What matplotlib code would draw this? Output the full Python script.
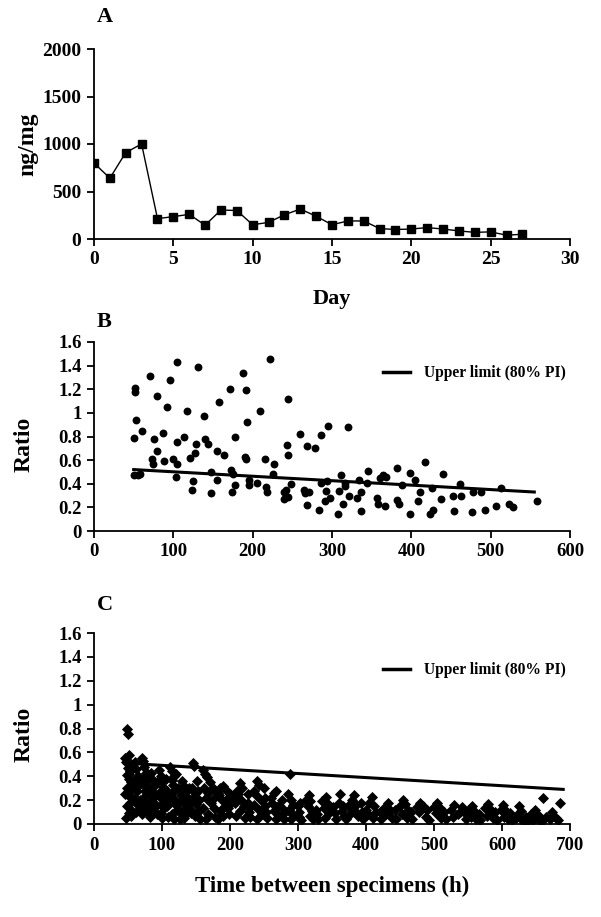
import matplotlib
matplotlib.use("Agg")
import matplotlib.pyplot as plt
from matplotlib.lines import Line2D

plt.rcParams['font.family'] = ['Liberation Serif', 'DejaVu Serif']
plt.rcParams['font.weight'] = 'bold'

# ---------------- Panel A data ----------------
days = list(range(0, 28))
conc = [800, 640, 910, 1000, 215, 235, 260, 145, 305, 300, 150, 175, 255, 315,
        240, 150, 190, 190, 110, 100, 105, 120, 105, 85, 70, 75, 40, 50]

# ---------------- Panel B data ----------------
b_x = [52, 52, 70, 105, 131, 96, 79, 92, 53, 61, 51, 76, 87, 80, 73, 74, 88, 99,
       104, 104, 103, 113, 117, 121, 127, 129, 125, 124, 139, 140, 144, 148, 148,
       155, 155, 157, 164, 171, 173, 175, 174, 178, 178, 188, 192, 193, 190, 191,
       196, 195, 205, 209, 216, 217, 218, 222, 227, 225, 244, 243, 244, 239, 242,
       240, 245, 248, 260, 265, 266, 271, 269, 268, 279, 286, 284, 286, 292, 295,
       294, 291, 298, 307, 309, 311, 314, 317, 316, 320, 321, 331, 334, 336, 337,
       344, 346, 357, 358, 361, 364, 368, 367, 382, 382, 384, 388, 398, 398, 405,
       408, 411, 417, 424, 427, 426, 437, 440, 453, 454, 461, 462, 478, 477, 488,
       493, 507, 513, 523, 528, 558, 50, 55, 58]
b_y = [1.21, 1.18, 1.31, 1.43, 1.39, 1.28, 1.14, 1.05, 0.94, 0.85, 0.79, 0.78,
       0.83, 0.68, 0.61, 0.57, 0.59, 0.61, 0.75, 0.57, 0.46, 0.80, 1.02, 0.62,
       0.66, 0.74, 0.42, 0.35, 0.97, 0.78, 0.74, 0.50, 0.32, 0.68, 0.43, 1.09,
       0.64, 1.20, 0.52, 0.48, 0.33, 0.80, 0.39, 1.34, 1.19, 0.92, 0.63, 0.61,
       0.43, 0.39, 0.41, 1.02, 0.61, 0.37, 0.33, 1.46, 0.57, 0.48, 1.12, 0.73,
       0.64, 0.33, 0.35, 0.27, 0.29, 0.40, 0.82, 0.35, 0.32, 0.33, 0.72, 0.22,
       0.70, 0.81, 0.18, 0.41, 0.34, 0.89, 0.42, 0.25, 0.28, 0.14, 0.34, 0.47,
       0.23, 0.38, 0.41, 0.88, 0.30, 0.28, 0.43, 0.33, 0.17, 0.41, 0.51, 0.28,
       0.23, 0.45, 0.47, 0.46, 0.21, 0.53, 0.26, 0.23, 0.39, 0.49, 0.14, 0.43,
       0.25, 0.33, 0.58, 0.14, 0.18, 0.36, 0.27, 0.48, 0.30, 0.17, 0.40, 0.30,
       0.33, 0.16, 0.33, 0.18, 0.21, 0.36, 0.23, 0.20, 0.25, 0.47, 0.47, 0.48]
b_lim_x = [50, 555]
b_lim_y = [0.52, 0.33]

# ---------------- Panel C data ----------------
c_x = [48, 50, 52, 47, 55, 50, 53, 49, 51, 54, 56, 48, 52, 50, 57, 53, 49, 55, 51, 47, 58, 52,
       62, 64, 60, 63, 61, 65, 62, 60,
       70, 72, 74, 76, 71, 73, 75, 77, 72, 74, 78, 70, 76,
       84, 86, 88, 85, 87, 89, 86, 84,
       96, 98, 100, 102, 97, 99, 101, 103, 98, 100, 104,
       112, 115, 118, 114, 116, 120, 113, 117, 119, 122, 115, 118, 121,
       130, 132, 135, 128, 134, 137, 131, 136, 133, 138,
       145, 147, 144, 148, 146, 150, 143, 149,
       160, 163, 166, 170, 162, 168, 165, 172, 160, 167, 164,
       182, 186, 190, 184, 188, 192, 185, 189, 183,
       205, 210, 215, 218, 212, 207, 220, 214, 209, 222, 216,
       235, 240, 243, 238, 245, 236, 242, 247, 239,
       260, 265, 268, 262, 270, 264, 272, 267,
       285, 288, 290, 292, 287, 291, 289,
       312, 316, 318, 314, 320, 317, 322,
       336, 341, 344, 338, 346, 340,
       360, 362, 366, 364, 368, 370,
       380, 383, 386, 382, 388,
       400, 405, 409, 412, 403, 410, 415,
       428, 432, 436, 430, 438,
       450, 455, 458, 462, 453, 460,
       475, 480, 484, 478, 488,
       500, 505, 509, 503, 511,
       525, 530, 538, 541, 528, 535,
       552, 556, 560, 554, 562,
       575, 580, 584, 578, 587,
       598, 601, 606, 603, 609,
       620, 625, 628, 623, 630,
       642, 649, 652, 645,
       661, 665, 674, 670, 686,
       45, 46, 58, 59, 54, 56, 66, 67, 68, 80, 81, 82, 79, 90, 91, 92, 93,
       106, 107, 108, 109, 110, 124, 125, 126, 127, 140, 141, 142,
       152, 153, 154, 155, 156, 175, 176, 177, 178, 195, 196, 197, 198, 199, 200,
       226, 227, 228, 229, 230, 250, 251, 252, 253, 254, 276, 277, 278, 279,
       300, 301, 302, 303, 305, 326, 328, 330, 352, 354, 356, 374, 376,
       392, 394, 396, 420, 422, 442, 444, 466, 468, 490, 492, 515, 517,
       545, 547, 566, 568, 590, 592, 612, 614, 635, 637, 655, 657, 680, 682]
c_y = [0.80, 0.75, 0.58, 0.52, 0.50, 0.47, 0.44, 0.41, 0.38, 0.35, 0.32, 0.30, 0.27, 0.24, 0.21, 0.18, 0.15, 0.12, 0.09, 0.05, 0.48, 0.42,
       0.46, 0.40, 0.34, 0.28, 0.22, 0.16, 0.10, 0.52,
       0.55, 0.53, 0.48, 0.43, 0.38, 0.33, 0.28, 0.24, 0.20, 0.15, 0.11, 0.08, 0.35,
       0.43, 0.38, 0.32, 0.27, 0.22, 0.17, 0.12, 0.30,
       0.45, 0.40, 0.36, 0.31, 0.27, 0.22, 0.18, 0.13, 0.09, 0.05, 0.25,
       0.48, 0.44, 0.40, 0.37, 0.33, 0.29, 0.25, 0.21, 0.17, 0.12, 0.08, 0.04, 0.42,
       0.36, 0.32, 0.28, 0.24, 0.20, 0.16, 0.12, 0.08, 0.05, 0.22,
       0.51, 0.49, 0.30, 0.26, 0.22, 0.17, 0.12, 0.07,
       0.45, 0.42, 0.39, 0.35, 0.30, 0.26, 0.22, 0.18, 0.13, 0.08, 0.04,
       0.26, 0.30, 0.32, 0.24, 0.20, 0.15, 0.11, 0.07, 0.04,
       0.22, 0.28, 0.34, 0.30, 0.25, 0.18, 0.15, 0.11, 0.07, 0.05, 0.20,
       0.28, 0.36, 0.33, 0.24, 0.20, 0.16, 0.12, 0.08, 0.04,
       0.22, 0.26, 0.28, 0.18, 0.15, 0.11, 0.07, 0.04,
       0.25, 0.42, 0.20, 0.16, 0.12, 0.08, 0.04,
       0.20, 0.24, 0.19, 0.15, 0.11, 0.07, 0.04,
       0.19, 0.23, 0.17, 0.13, 0.09, 0.05,
       0.18, 0.25, 0.15, 0.11, 0.07, 0.04,
       0.20, 0.24, 0.16, 0.12, 0.07,
       0.12, 0.18, 0.23, 0.15, 0.08, 0.05, 0.10,
       0.14, 0.18, 0.12, 0.08, 0.05,
       0.15, 0.20, 0.17, 0.12, 0.08, 0.05,
       0.14, 0.18, 0.15, 0.10, 0.06,
       0.14, 0.18, 0.13, 0.09, 0.05,
       0.12, 0.16, 0.10, 0.14, 0.06, 0.08,
       0.12, 0.15, 0.10, 0.06, 0.04,
       0.13, 0.17, 0.12, 0.07, 0.05,
       0.12, 0.16, 0.11, 0.06, 0.04,
       0.05, 0.15, 0.11, 0.08, 0.03,
       0.08, 0.12, 0.05, 0.03,
       0.22, 0.06, 0.10, 0.04, 0.18,
       0.55, 0.25, 0.36, 0.20, 0.07, 0.29, 0.33, 0.20, 0.12, 0.30, 0.18, 0.06, 0.42, 0.25, 0.15, 0.08, 0.35,
       0.38, 0.28, 0.15, 0.06, 0.20, 0.30, 0.18, 0.10, 0.04, 0.30, 0.18, 0.09,
       0.36, 0.28, 0.20, 0.11, 0.04, 0.30, 0.22, 0.13, 0.06, 0.28, 0.21, 0.13, 0.08, 0.16, 0.25,
       0.25, 0.18, 0.10, 0.06, 0.14, 0.30, 0.22, 0.15, 0.10, 0.05, 0.20, 0.13, 0.08, 0.04,
       0.15, 0.10, 0.06, 0.18, 0.03, 0.12, 0.08, 0.04, 0.14, 0.09, 0.04, 0.15, 0.08,
       0.18, 0.10, 0.04, 0.10, 0.04, 0.12, 0.04, 0.10, 0.04, 0.12, 0.03, 0.10, 0.04,
       0.09, 0.04, 0.08, 0.03, 0.10, 0.03, 0.09, 0.03, 0.06, 0.02, 0.07, 0.02, 0.05, 0.03]
c_lim_x = [45, 690]
c_lim_y = [0.51, 0.29]

ratio_ticks = [0, 0.2, 0.4, 0.6, 0.8, 1, 1.2, 1.4, 1.6]
ratio_labels = ['0', '0.2', '0.4', '0.6', '0.8', '1', '1.2', '1.4', '1.6']

W, H = 601, 917
fig = plt.figure(figsize=(W / 100, H / 100), dpi=100)

def axes_px(l, t, r, b):
    return fig.add_axes([l / W, 1 - b / H, (r - l) / W, (b - t) / H])

def style(ax, fs=13.5):
    for s in ['top', 'right']:
        ax.spines[s].set_visible(False)
    for s in ['left', 'bottom']:
        ax.spines[s].set_linewidth(1.3)
    ax.tick_params(direction='out', length=5, width=1.3, labelsize=fs, pad=4)
    for lab in ax.get_xticklabels() + ax.get_yticklabels():
        lab.set_fontweight('bold')

AX_W = 570 - 94

# Panel A
axA = axes_px(94, 49, 570, 239)
axA.plot(days, conc, color='black', lw=1, marker='s', markersize=5.5)
axA.set_xlim(0, 30)
axA.set_ylim(0, 2000)
axA.set_xticks([0, 5, 10, 15, 20, 25, 30])
axA.set_yticks([0, 500, 1000, 1500, 2000])
style(axA, 14)
axA.set_xlabel('Day', fontsize=16, fontweight='bold', labelpad=15)
axA.set_ylabel('ng/mg', fontsize=17, fontweight='bold')
axA.yaxis.set_label_coords(-(94 - 38) / AX_W, 0.5)
fig.text(97 / W, 1 - 17 / H, 'A', fontsize=16, fontweight='bold', ha='left', va='center')

# Panel B
axB = axes_px(94, 342, 570, 531)
axB.scatter(b_x, b_y, s=32, color='black', marker='o', linewidths=0, zorder=3)
axB.plot(b_lim_x, b_lim_y, color='black', lw=2.2, zorder=4)
axB.set_xlim(0, 600)
axB.set_ylim(0, 1.6)
axB.set_xticks([0, 100, 200, 300, 400, 500, 600])
axB.set_yticks(ratio_ticks)
axB.set_yticklabels(ratio_labels)
style(axB, 13.5)
axB.set_ylabel('Ratio', fontsize=17, fontweight='bold')
axB.yaxis.set_label_coords(-(94 - 35) / AX_W, 0.46)
hB = [Line2D([0], [0], color='black', lw=2.5)]
axB.legend(hB, ['Upper limit (80% PI)'], loc='upper right', bbox_to_anchor=(1.02, 0.95),
           frameon=False, handlelength=1.75, handletextpad=0.9,
           prop={'weight': 'bold', 'size': 11.2})
fig.text(97 / W, 1 - 322 / H, 'B', fontsize=16, fontweight='bold', ha='left', va='center')

# Panel C
axC = axes_px(94, 633, 570, 824)
axC.scatter(c_x, c_y, s=32, color='black', marker='D', linewidths=0, zorder=3)
axC.plot(c_lim_x, c_lim_y, color='black', lw=2.2, zorder=4)
axC.set_xlim(0, 700)
axC.set_ylim(0, 1.6)
axC.set_xticks([0, 100, 200, 300, 400, 500, 600, 700])
axC.set_yticks(ratio_ticks)
axC.set_yticklabels(ratio_labels)
style(axC, 13.5)
axC.set_ylabel('Ratio', fontsize=17, fontweight='bold')
axC.yaxis.set_label_coords(-(94 - 35) / AX_W, 0.47)
axC.set_xlabel('Time between specimens (h)', fontsize=16.5, fontweight='bold', labelpad=16)
hC = [Line2D([0], [0], color='black', lw=2.5)]
axC.legend(hC, ['Upper limit (80% PI)'], loc='upper right', bbox_to_anchor=(1.02, 0.92),
           frameon=False, handlelength=1.75, handletextpad=0.9,
           prop={'weight': 'bold', 'size': 11.2})
fig.text(97 / W, 1 - 605 / H, 'C', fontsize=16, fontweight='bold', ha='left', va='center')

fig.savefig('out.png', dpi=100)
